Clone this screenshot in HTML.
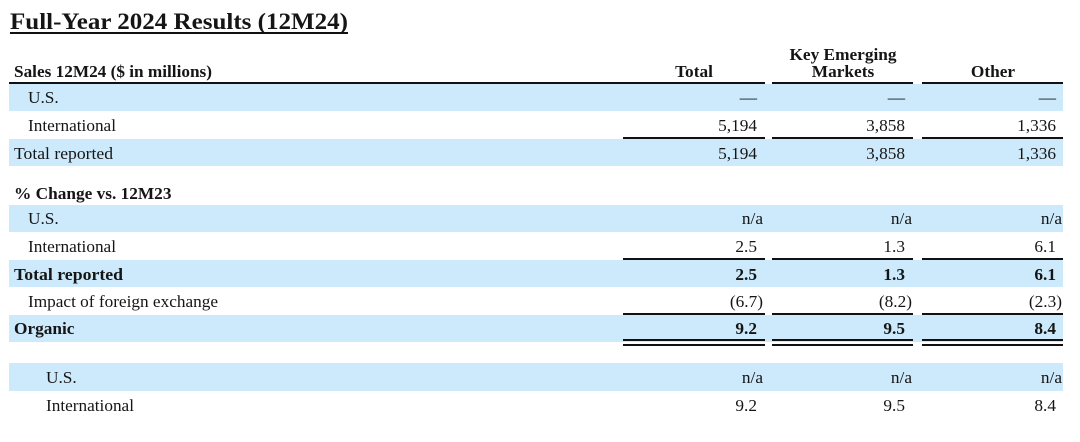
<!DOCTYPE html>
<html><head><meta charset="utf-8"><style>
html,body{margin:0;padding:0;background:#fff;}
svg{display:block;}
text{font-family:"Liberation Serif",serif;fill:#151515;}
.b{font-weight:bold;}
.n{font-size:17.3px;}
.r{text-anchor:end;}
</style></head><body>
<svg width="1080" height="442" viewBox="0 0 1080 442">
<text x="10" y="29" class="b" font-size="23" textLength="338" lengthAdjust="spacingAndGlyphs">Full-Year 2024 Results (12M24)</text>
<rect x="10" y="32" width="338" height="2" fill="#111"/>

<text x="14" y="77" class="b n" textLength="198" lengthAdjust="spacingAndGlyphs">Sales 12M24 ($ in millions)</text>
<text x="694" y="77" class="b n" text-anchor="middle">Total</text>
<text x="843" y="60" class="b n" text-anchor="middle">Key Emerging</text>
<text x="843" y="77" class="b n" text-anchor="middle">Markets</text>
<text x="993" y="77" class="b n" text-anchor="middle">Other</text>

<g fill="#cdeafc">
<rect x="9" y="84" width="1054" height="27"/>
<rect x="9" y="139" width="1054" height="27"/>
<rect x="9" y="205" width="1054" height="27"/>
<rect x="9" y="260" width="1054" height="27"/>
<rect x="9" y="315" width="1054" height="27"/>
<rect x="9" y="363" width="1054" height="28"/>
</g>

<g fill="#111">
<rect x="9" y="82" width="756" height="2"/>
<rect x="772" y="82" width="141" height="2"/>
<rect x="922" y="82" width="141" height="2"/>
<rect x="623" y="137" width="142" height="2"/><rect x="772" y="137" width="141" height="2"/><rect x="922" y="137" width="141" height="2"/>
<rect x="623" y="258" width="142" height="2"/><rect x="772" y="258" width="141" height="2"/><rect x="922" y="258" width="141" height="2"/>
<rect x="623" y="313" width="142" height="2"/><rect x="772" y="313" width="141" height="2"/><rect x="922" y="313" width="141" height="2"/>
<rect x="623" y="339" width="142" height="2"/><rect x="772" y="339" width="141" height="2"/><rect x="922" y="339" width="141" height="2"/>
<rect x="623" y="344" width="142" height="2"/><rect x="772" y="344" width="141" height="2"/><rect x="922" y="344" width="141" height="2"/>
</g>

<g class="n">
<text x="28" y="103" class="n">U.S.</text>
<text x="757" y="103" class="n r">—</text><text x="905" y="103" class="n r">—</text><text x="1056" y="103" class="n r">—</text>
<text x="28" y="131" class="n" textLength="88" lengthAdjust="spacingAndGlyphs">International</text>
<text x="757" y="131" class="n r">5,194</text><text x="905" y="131" class="n r">3,858</text><text x="1056" y="131" class="n r">1,336</text>
<text x="14" y="159" class="n" textLength="99" lengthAdjust="spacingAndGlyphs">Total reported</text>
<text x="757" y="159" class="n r">5,194</text><text x="905" y="159" class="n r">3,858</text><text x="1056" y="159" class="n r">1,336</text>

<text x="14" y="199" class="b n">% Change vs. 12M23</text>
<text x="28" y="224" class="n">U.S.</text>
<text x="763" y="224" class="n r">n/a</text><text x="912" y="224" class="n r">n/a</text><text x="1062" y="224" class="n r">n/a</text>
<text x="28" y="252" class="n" textLength="88" lengthAdjust="spacingAndGlyphs">International</text>
<text x="757" y="252" class="n r">2.5</text><text x="905" y="252" class="n r">1.3</text><text x="1056" y="252" class="n r">6.1</text>
<text x="14" y="280" class="b n" textLength="109" lengthAdjust="spacingAndGlyphs">Total reported</text>
<text x="757" y="280" class="b n r">2.5</text><text x="905" y="280" class="b n r">1.3</text><text x="1056" y="280" class="b n r">6.1</text>
<text x="28" y="307" class="n" textLength="190" lengthAdjust="spacingAndGlyphs">Impact of foreign exchange</text>
<text x="763" y="307" class="n r">(6.7)</text><text x="912" y="307" class="n r">(8.2)</text><text x="1062" y="307" class="n r">(2.3)</text>
<text x="14" y="334" class="b n">Organic</text>
<text x="757" y="334" class="b n r">9.2</text><text x="905" y="334" class="b n r">9.5</text><text x="1056" y="334" class="b n r">8.4</text>

<text x="46" y="383" class="n">U.S.</text>
<text x="763" y="383" class="n r">n/a</text><text x="912" y="383" class="n r">n/a</text><text x="1062" y="383" class="n r">n/a</text>
<text x="46" y="411" class="n" textLength="88" lengthAdjust="spacingAndGlyphs">International</text>
<text x="757" y="411" class="n r">9.2</text><text x="905" y="411" class="n r">9.5</text><text x="1056" y="411" class="n r">8.4</text>
</g>
</svg>
</body></html>
